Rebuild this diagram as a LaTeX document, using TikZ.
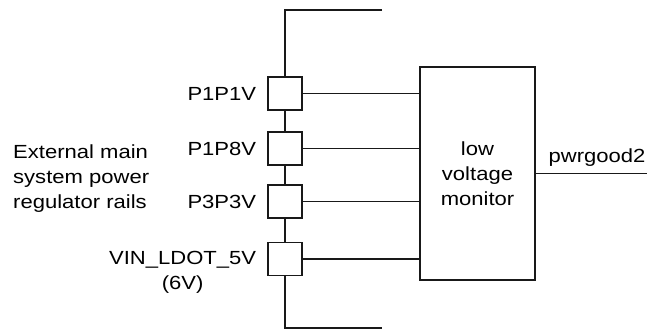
\documentclass[tikz,border=0pt]{standalone}
\usepackage{fontspec}
\setmainfont[FakeStretch=1.16]{Liberation Sans}
\usetikzlibrary{positioning}

\begin{document}
\begin{tikzpicture}[
                x=1pt, y=-1pt,
                every node/.style={font=\fontsize{19}{25}\selectfont},
                bus/.style={draw=black!90, line width=2pt},
                wire/.style={draw=black!90, line width=1.2pt},
                tap/.style={draw=black!90, rectangle, line width=1.3pt, minimum width=34pt, minimum height=33pt, inner sep=0pt},
                monitor/.style={draw=black!90, rectangle, line width=2.2pt, minimum width=115pt, minimum height=213pt, align=center, inner sep=0pt},
                lbl/.style={inner sep=0pt}
            ]
            \useasboundingbox (0,0) rectangle (647,330);

            % rail taps
            \node[tap] (p1v1) at (285,93.5) {};
            \node[tap] (p1v8) at (285,148.5) {};
            \node[tap] (p3v3) at (285,201.5) {};
            \node[tap] (vin5) at (285,259) {};

            \node[monitor] (lvm) at (477.5,173.5) {low\\voltage\\monitor};

            \coordinate (busTop) at (382,9.5);
            \coordinate (busBot) at (382,328);
            \coordinate (pgOut) at (647,173.5);

            % main rail
            \draw[bus] (busTop) -| (p1v1.north);
            \draw[bus] (p1v1.south) -- (p1v8.north);
            \draw[bus] (p1v8.south) -- (p3v3.north);
            \draw[bus] (p3v3.south) -- (vin5.north);
            \draw[bus] (vin5.south) |- (busBot);

            % sense lines
            \foreach \t in {p1v1, p1v8, p3v3, vin5}
                \draw[wire] (\t.east) -- (\t.east -| lvm.west);
            \draw[wire] (lvm.east) -- (pgOut) node[lbl, pos=0.55, above=6pt] {pwrgood2};

            % labels
            \node[lbl, left=11pt of p1v1] {P1P1V};
            \node[lbl, left=11pt of p1v8] {P1P8V};
            \node[lbl, left=11pt of p3v3] {P3P3V};
            \node[lbl, left=11pt of vin5, yshift=-13pt, align=center] {VIN\_LDOT\_5V\\(6V)};
            \node[lbl, anchor=west, align=left] (ext) at (13,179) {External main\\system power\\regulator rails};
        \end{tikzpicture}
\end{document}
